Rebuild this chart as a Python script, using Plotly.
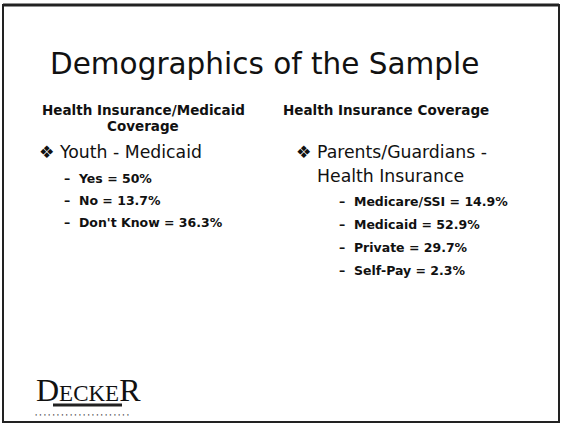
import plotly.graph_objects as go

title_text = "Demographics of the Sample"
left_heading = ["Health Insurance/Medicaid", "Coverage"]
right_heading = "Health Insurance Coverage"

youth_group = "Youth - Medicaid"
youth_labels = ["Yes", "No", "Don't Know"]
youth_values = [50, 13.7, 36.3]

parent_group = ["Parents/Guardians -", "Health Insurance"]
parent_labels = ["Medicare/SSI", "Medicaid", "Private", "Self-Pay"]
parent_values = [14.9, 52.9, 29.7, 2.3]

FONT = "DejaVu Sans"
INK = "#111111"

fig = go.Figure()
ann = []

def add(text, x, y, size, xanchor="left", bold=False, family=FONT):
    ann.append(dict(x=x, y=y, xref="x", yref="y", text=(f"<b>{text}</b>" if bold else text),
                    showarrow=False, xanchor=xanchor, yanchor="middle",
                    font=dict(family=family, size=size, color=INK), align="center"))

add(title_text, 264, 64, 29.5, xanchor="center")
add(left_heading[0], 143, 110, 13.5, xanchor="center", bold=True)
add(left_heading[1], 143, 126, 13.5, xanchor="center", bold=True)
add(right_heading, 386, 110, 13.5, xanchor="center", bold=True)

add("\u2756 " + youth_group, 37, 152, 17.3)
for i, (lab, v) in enumerate(zip(youth_labels, youth_values)):
    add(f"\u2013  {lab} = {v:g}%", 62, 178 + i * 22, 12.5, bold=True)

add("\u2756 " + parent_group[0], 294, 152, 17.3)
add(parent_group[1], 315, 176, 17.3)
for i, (lab, v) in enumerate(zip(parent_labels, parent_values)):
    add(f"\u2013  {lab} = {v:g}%", 337, 201 + i * 23.3, 12.5, bold=True)

# DECKER logo
ann.append(dict(x=34, y=390, xref="x", yref="y", showarrow=False, xanchor="left", yanchor="middle",
                text="D<span style='font-size:23px'>ECKE</span>R",
                font=dict(family="Liberation Serif", size=32, color=INK)))
ann.append(dict(x=33, y=414, xref="x", yref="y", showarrow=False, xanchor="left", yanchor="middle",
                text="<b>\u00b7 \u00b7 \u00b7 \u00b7 \u00b7 \u00b7 \u00b7 \u00b7 \u00b7 \u00b7 \u00b7 \u00b7 \u00b7 \u00b7 \u00b7 \u00b7 \u00b7 \u00b7 \u00b7 \u00b7 \u00b7 \u00b7</b>",
                font=dict(family=FONT, size=6, color="#000000")))

shapes = [
    dict(type="rect", xref="x", yref="y", x0=3, x1=559, y0=5, y1=422,
         line=dict(color="#222222", width=2), fillcolor="rgba(0,0,0,0)"),
    dict(type="line", xref="x", yref="y", x0=3, x1=559, y0=5, y1=5,
         line=dict(color="#222222", width=3)),
    dict(type="line", xref="x", yref="y", x0=53, x1=122, y0=405, y1=405,
         line=dict(color="#222222", width=3)),
]

fig.update_layout(
    width=563, height=424, margin=dict(l=0, r=0, t=0, b=0),
    paper_bgcolor="white", plot_bgcolor="white",
    xaxis=dict(range=[0, 563], visible=False, fixedrange=True),
    yaxis=dict(range=[424, 0], visible=False, fixedrange=True),
    annotations=ann, shapes=shapes, showlegend=False,
)
fig.write_html("out.html", config={"displayModeBar": False},
               post_script="document.body.style.margin='0';")
